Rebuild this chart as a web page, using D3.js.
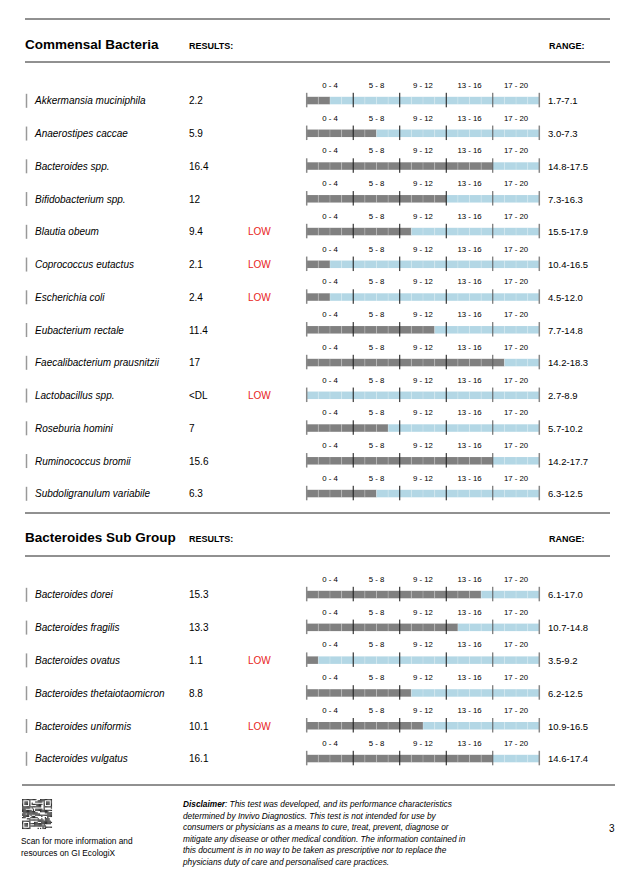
<!DOCTYPE html>
<html><head><meta charset="utf-8">
<script src="https://cdn.jsdelivr.net/npm/d3@7/dist/d3.min.js"></script>
<style>
html,body{margin:0;padding:0;background:#fff;}
svg{display:block;font-family:"Liberation Sans",Arial,Helvetica,sans-serif;}
</style></head>
<body>
<svg id="c" width="632" height="870"></svg>
<script>
// ---- data ----
const groupLabels = ["0 - 4","5 - 8","9 - 12","13 - 16","17 - 20"];
const groupCenters = [2, 6, 10, 14, 18];
const tickValues = [0, 4, 8, 12, 16, 20];

const commensalNames = ["Akkermansia muciniphila","Anaerostipes caccae","Bacteroides spp.","Bifidobacterium spp.","Blautia obeum","Coprococcus eutactus","Escherichia coli","Eubacterium rectale","Faecalibacterium prausnitzii","Lactobacillus spp.","Roseburia homini","Ruminococcus bromii","Subdoligranulum variabile"];
const commensalResults = ["2.2","5.9","16.4","12","9.4","2.1","2.4","11.4","17","<DL","7","15.6","6.3"];
const commensalValues = [2.2,5.9,16.4,12,9.4,2.1,2.4,11.4,17,0,7,15.6,6.3];
const commensalFlags = ["","","","","LOW","LOW","LOW","","","LOW","","",""];
const commensalRanges = ["1.7-7.1","3.0-7.3","14.8-17.5","7.3-16.3","15.5-17.9","10.4-16.5","4.5-12.0","7.7-14.8","14.2-18.3","2.7-8.9","5.7-10.2","14.2-17.7","6.3-12.5"];

const subNames = ["Bacteroides dorei","Bacteroides fragilis","Bacteroides ovatus","Bacteroides thetaiotaomicron","Bacteroides uniformis","Bacteroides vulgatus"];
const subResults = ["15.3","13.3","1.1","8.8","10.1","16.1"];
const subValues = [15.3,13.3,1.1,8.8,10.1,16.1];
const subFlags = ["","","LOW","","LOW",""];
const subRanges = ["6.1-17.0","10.7-14.8","3.5-9.2","6.2-12.5","10.9-16.5","14.6-17.4"];

const disclaimerLines = [
  "This test was developed, and its performance characteristics",
  "determined by Invivo Diagnostics. This test is not intended for use by",
  "consumers or physicians as a means to cure, treat, prevent, diagnose or",
  "mitigate any disease or other medical condition. The information contained in",
  "this document is in no way to be taken as prescriptive nor to replace the",
  "physicians duty of care and personalised care practices."
];

// ---- drawing ----
const svg = d3.select("#c");
const x = d3.scaleLinear().domain([0, 20]).range([306.7, 539.3]);
const BLUE = "#b3d7e5", GRAY = "#808080";

function hline(y, x1=25, x2=610){
  svg.append("line").attr("x1",x1).attr("x2",x2).attr("y1",y).attr("y2",y)
    .attr("stroke","#222").attr("stroke-width",1);
}

function section(title, titleY, names, results, values, flags, ranges, y0, y1){
  svg.append("text").attr("x",25).attr("y",titleY).attr("font-size",13.5)
    .attr("font-weight","bold").attr("fill","#000").text(title);
  svg.append("text").attr("x",189).attr("y",titleY).attr("font-size",9)
    .attr("font-weight","bold").text("RESULTS:");
  svg.append("text").attr("x",549).attr("y",titleY).attr("font-size",9)
    .attr("font-weight","bold").text("RANGE:");

  const y = d3.scalePoint().domain(names).range([y0, y1]);
  const rows = svg.append("g").selectAll("g").data(names).join("g")
    .attr("transform", d => `translate(0,${y(d)})`);

  rows.append("line").attr("x1",26.5).attr("x2",26.5).attr("y1",-7).attr("y2",7)
    .attr("stroke","#999").attr("stroke-width",1.5);
  rows.append("text").attr("x",35).attr("y",3.5).attr("font-size",10)
    .attr("font-style","italic").text(d => d);
  rows.append("text").attr("x",189).attr("y",3.5).attr("font-size",10)
    .text((d,i) => results[i]);
  rows.append("text").attr("x",248).attr("y",3.5).attr("font-size",10)
    .attr("fill","#e8241b").text((d,i) => flags[i]);
  rows.append("text").attr("x",548).attr("y",3.5).attr("font-size",9.5)
    .text((d,i) => ranges[i]);

  rows.each(function(d, i){
    const g = d3.select(this);
    const filled = Math.round(values[i]);
    const cells = d3.range(20);
    g.selectAll("rect.cell").data(cells).join("rect").attr("class","cell")
      .attr("x", c => x(c)).attr("width", c => x(c+1) - x(c))
      .attr("y", -4).attr("height", 7.5)
      .attr("fill", c => c < filled ? GRAY : BLUE);
    g.selectAll("line.sep").data(d3.range(1,20).filter(c => c % 4 !== 0)).join("line")
      .attr("class","sep")
      .attr("x1", c => x(c)).attr("x2", c => x(c)).attr("y1",-4).attr("y2",3.5)
      .attr("stroke","#fff").attr("stroke-opacity",0.3).attr("stroke-width",0.8);
    g.selectAll("line.tick").data(tickValues).join("line").attr("class","tick")
      .attr("x1", t => x(t)).attr("x2", t => x(t)).attr("y1",-8).attr("y2",6.5)
      .attr("stroke", t => (t === 0 || t === 20) ? "#888" : (t === 16 ? "#555" : "#111"))
      .attr("stroke-width", t => (t === 0 || t === 20) ? 1.5 : 1);
    g.selectAll("text.grp").data(groupLabels).join("text").attr("class","grp")
      .attr("x", (t, k) => x(groupCenters[k])).attr("y", -13)
      .attr("text-anchor","middle").attr("font-size",7.8).text(t => t);
  });
}

hline(19);
section("Commensal Bacteria", 49, commensalNames, commensalResults, commensalValues, commensalFlags, commensalRanges, 100.8, 493.8);
hline(62);
hline(513);
section("Bacteroides Sub Group", 542, subNames, subResults, subValues, subFlags, subRanges, 594.8, 758.8);
hline(556);
hline(785, 22, 615);

// QR-like decorative block
(function(){
  const qx = 22, qy = 799, n = 25, s = 30 / n;
  const g = svg.append("g");
  let h = 7;
  const cellsQ = [];
  for (let r = 0; r < n; r++) for (let c = 0; c < n; c++) {
    h = (h * 1103515245 + 12345) & 0x7fffffff;
    const inFinder = (rr, cc) => rr < 7 && cc < 7;
    let on;
    const f = [[0,0],[0,n-7],[n-7,0]].find(([fr,fc]) => inFinder(r-fr, c-fc) && r-fr>=0 && c-fc>=0);
    if (f) {
      const rr = r - f[0], cc = c - f[1];
      on = (rr===0||rr===6||cc===0||cc===6) || (rr>=2&&rr<=4&&cc>=2&&cc<=4);
    } else on = ((h >> 8) & 3) < 2;
    if (on) cellsQ.push([r,c]);
  }
  g.selectAll("rect").data(cellsQ).join("rect")
    .attr("x", d => qx + d[1]*s).attr("y", d => qy + d[0]*s)
    .attr("width", s+0.05).attr("height", s+0.05).attr("fill","#333");
})();

svg.append("text").attr("x",21).attr("y",844).attr("font-size",8.3).text("Scan for more information and");
svg.append("text").attr("x",21).attr("y",856).attr("font-size",8.3).text("resources on GI EcologiX");

const disc = svg.append("g");
disclaimerLines.forEach((line, i) => {
  const t = disc.append("text").attr("x",183).attr("y",807 + i*11.6)
    .attr("font-size",8.3).attr("font-style","italic");
  if (i === 0) {
    t.append("tspan").attr("font-weight","bold").text("Disclaimer");
    t.append("tspan").text(": " + line);
  } else t.text(line);
});
svg.append("text").attr("x",609).attr("y",832).attr("font-size",10).text("3");
</script>
</body></html>
